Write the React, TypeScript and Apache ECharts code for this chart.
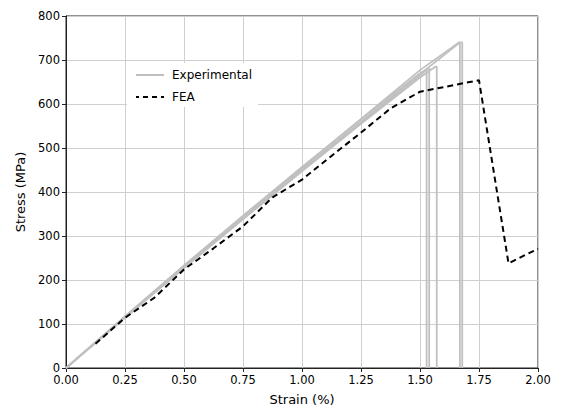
import React, { useEffect, useRef } from "react";
import * as echarts from "echarts";

const xTicks = [0, 0.25, 0.5, 0.75, 1.0, 1.25, 1.5, 1.75, 2.0];
const yTicks = [0, 100, 200, 300, 400, 500, 600, 700, 800];

// Experimental specimens: [strain %, stress MPa]
const exp1: number[][] = [[0, 0], [0.25, 117], [0.5, 232], [0.75, 344], [1.0, 455], [1.25, 566], [1.5, 677], [1.665, 740], [1.679, 740], [1.679, 0]];
const exp2: number[][] = [[0, 0], [0.25, 116], [0.5, 229], [0.75, 341], [1.0, 450], [1.25, 560], [1.5, 668], [1.662, 737], [1.669, 737], [1.669, 0]];
const exp3: number[][] = [[0, 0], [0.25, 114], [0.5, 227], [0.75, 338], [1.0, 447], [1.25, 555], [1.5, 660], [1.566, 685], [1.571, 685], [1.571, 0]];
const exp4: number[][] = [[0, 0], [0.25, 117], [0.5, 233], [0.75, 346], [1.0, 457], [1.25, 565], [1.5, 670], [1.535, 681], [1.539, 681], [1.539, 0]];
const exp5: number[][] = [[0, 0], [0.25, 115], [0.5, 230], [0.75, 342], [1.0, 452], [1.25, 558], [1.5, 664], [1.525, 677], [1.528, 677], [1.528, 0]];
const expSeries = [exp1, exp2, exp3, exp4, exp5];

// FEA prediction
const feaStrain = [0.125, 0.25, 0.375, 0.5, 0.625, 0.75, 0.875, 1.0, 1.125, 1.25, 1.375, 1.5, 1.75, 1.875, 2.0];
const feaStress = [55, 114, 160, 224, 272, 322, 388, 428, 482, 535, 590, 628, 654, 238, 271];

const FONT = "DejaVu Sans";

export default function App() {
  const ref = useRef<HTMLDivElement>(null);
  useEffect(() => {
    if (!ref.current) return;
    const chart = echarts.init(ref.current, null, { renderer: "svg" });
    const series: any[] = expSeries.map((d) => ({
      name: "Experimental",
      type: "line",
      data: d,
      symbol: "none",
      lineStyle: { color: "#c0c0c0", width: 1.8 },
      itemStyle: { color: "#c0c0c0" },
      z: 2,
    }));
    series.push({
      name: "FEA",
      type: "line",
      data: feaStrain.map((x, i) => [x, feaStress[i]]),
      symbol: "none",
      lineStyle: { color: "#000", width: 2, type: [6, 4] },
      itemStyle: { color: "#000" },
      z: 3,
    });
    chart.setOption({
      animation: false,
      textStyle: { fontFamily: FONT },
      grid: {
        left: 66,
        top: 16,
        right: 26,
        bottom: 48,
        show: true,
        borderColor: "#222",
        borderWidth: 1,
        backgroundColor: "transparent",
      },
      legend: {
        data: [
          { name: "Experimental", lineStyle: { color: "#c0c0c0", width: 2, type: "solid" } },
          { name: "FEA", lineStyle: { color: "#000", width: 2, type: [5, 4], dashOffset: 2 } },
        ],
        orient: "vertical",
        left: 127,
        top: 63,
        backgroundColor: "#fff",
        padding: [6, 6, 4, 8],
        itemWidth: 28,
        itemHeight: 14,
        itemGap: 10,
        itemStyle: { opacity: 0, borderWidth: 0 },
        textStyle: { fontFamily: FONT, fontSize: 12, color: "#000", padding: [0, 0, 0, 3] },
        z: 10,
      },
      xAxis: {
        type: "value",
        min: xTicks[0],
        max: xTicks[xTicks.length - 1],
        interval: 0.25,
        name: "Strain (%)",
        nameLocation: "middle",
        nameGap: 25,
        nameTextStyle: { fontFamily: FONT, fontSize: 13, color: "#000" },
        axisLine: { show: true, lineStyle: { color: "#222", width: 1 } },
        axisTick: { show: true, length: 4, lineStyle: { color: "#222" } },
        axisLabel: {
          fontFamily: FONT,
          fontSize: 11.5,
          color: "#000",
          margin: 6,
          formatter: (v: number) => v.toFixed(2),
        },
        splitLine: { show: true, lineStyle: { color: "#cfcfcf", width: 1 } },
      },
      yAxis: {
        type: "value",
        min: yTicks[0],
        max: yTicks[yTicks.length - 1],
        interval: 100,
        name: "Stress (MPa)",
        nameLocation: "middle",
        nameGap: 39,
        nameTextStyle: { fontFamily: FONT, fontSize: 13, color: "#000" },
        axisLine: { show: true, lineStyle: { color: "#222", width: 1 } },
        axisTick: { show: true, length: 4, lineStyle: { color: "#222" } },
        axisLabel: { fontFamily: FONT, fontSize: 11.5, color: "#000", margin: 6 },
        splitLine: { show: true, lineStyle: { color: "#cfcfcf", width: 1 } },
      },
      series,
    });
    return () => chart.dispose();
  }, []);
  return (
    <div
      ref={ref}
      style={{ position: "fixed", left: 0, top: 0, width: 564, height: 416, background: "#fff" }}
    />
  );
}
